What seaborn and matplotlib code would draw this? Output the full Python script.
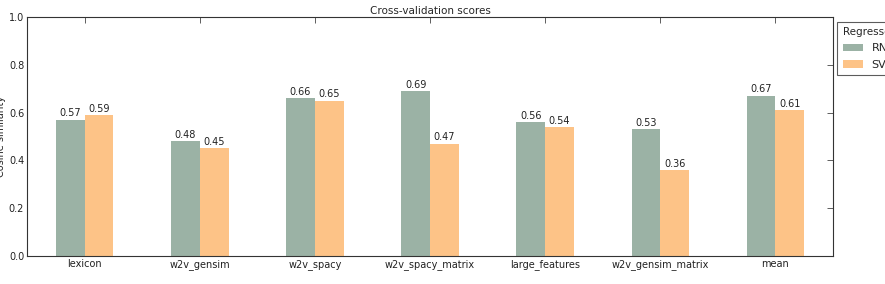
import matplotlib
matplotlib.use("Agg")
import matplotlib.pyplot as plt
import seaborn as sns
import pandas as pd

categories = ["lexicon", "w2v_gensim", "w2v_spacy", "w2v_spacy_matrix",
              "large_features", "w2v_gensim_matrix", "mean"]
rnn_scores = [0.57, 0.48, 0.66, 0.69, 0.56, 0.53, 0.67]
svr_scores = [0.59, 0.45, 0.65, 0.47, 0.54, 0.36, 0.61]
regressors = ["RNN", "SVR"]

df = pd.DataFrame({
    "feature": categories * 2,
    "score": rnn_scores + svr_scores,
    "Regressor": [regressors[0]] * len(categories) + [regressors[1]] * len(categories),
})

sns.set_style("white")
plt.rcParams["font.family"] = ["DejaVu Sans"]
plt.rcParams["xtick.direction"] = "in"
plt.rcParams["ytick.direction"] = "in"

fig = plt.figure(figsize=(8.85, 2.84), dpi=100)
ax = fig.add_axes([27 / 885, 28 / 284, 806 / 885, 239 / 284])

palette = {"RNN": "#9bb2a5", "SVR": "#fdc387"}
sns.barplot(data=df, x="feature", y="score", hue="Regressor", palette=palette,
            width=0.5, ax=ax, saturation=1, errorbar=None, linewidth=0)

for cont in ax.containers:
    ax.bar_label(cont, fmt="%.2f", fontsize=7, padding=1, color="#222222")

ax.set_xlim(-0.5, 6.5)
ax.set_ylim(0, 1.0)
ax.set_yticks([0.0, 0.2, 0.4, 0.6, 0.8, 1.0])
ax.set_yticklabels(["0.0", "0.2", "0.4", "0.6", "0.8", "1.0"])
ax.tick_params(axis="both", labelsize=7, top=True, right=True, length=4, width=0.6,
               colors="#444444", labelcolor="#222222", pad=2)
ax.set_xlabel("")
ax.set_ylabel("Cosine similarity", fontsize=7, labelpad=2)
ax.set_title("Cross-validation scores", fontsize=7.5, pad=2)
for s in ax.spines.values():
    s.set_visible(True)
    s.set_color("#333333")
    s.set_linewidth(0.8)

leg = ax.legend(title="Regressor", loc="upper left", bbox_to_anchor=(1.005, 0.98),
                fontsize=8, title_fontsize=7.5, frameon=True, fancybox=False,
                borderaxespad=0, handlelength=1.8, handleheight=0.7,
                borderpad=0.5, labelspacing=0.55, handletextpad=0.8)
leg.get_frame().set_edgecolor("#333333")
leg.get_frame().set_linewidth(0.8)
leg._legend_box.align = "left"

fig.savefig("out.png", dpi=100)
